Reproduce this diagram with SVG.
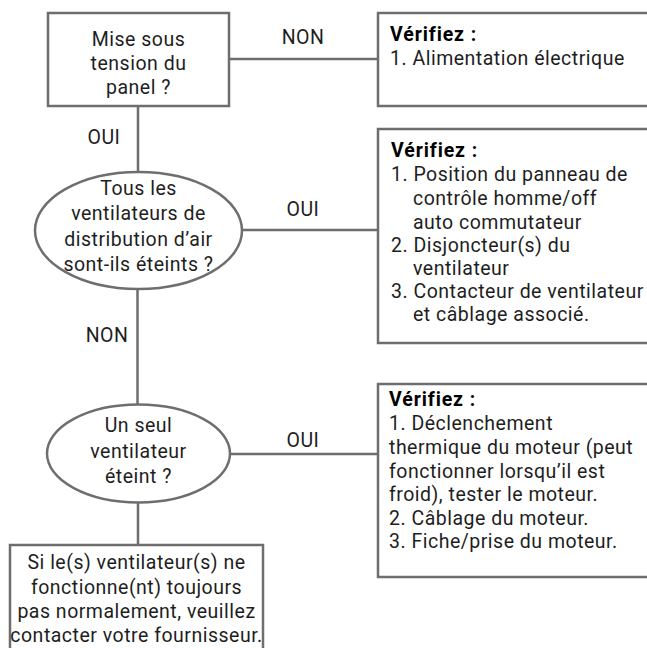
<svg xmlns="http://www.w3.org/2000/svg" width="647" height="648" viewBox="0 0 647 648">
<style>
.shape{fill:#fff;stroke:#6e6e6e;stroke-width:2.5}
.line{stroke:#6e6e6e;stroke-width:2.5;fill:none}
text{font-family:Roboto,"Open Sans","Noto Sans",sans-serif;font-size:19.5px;letter-spacing:0.5px;fill:#1e1e1e}
.c{text-anchor:middle}
.b{font-weight:bold;fill:#000;letter-spacing:0.9px}
</style>
<rect width="647" height="648" fill="#fff"/>
<g id="connectors">
<line class="line" x1="229" y1="59" x2="378" y2="59"/>
<line class="line" x1="138" y1="106" x2="138" y2="172"/>
<line class="line" x1="242" y1="230" x2="378" y2="230"/>
<line class="line" x1="137.5" y1="289" x2="137.5" y2="405"/>
<line class="line" x1="230" y1="454" x2="377" y2="454"/>
<line class="line" x1="138" y1="502" x2="138" y2="545"/>
<text class="c" x="303" y="44">NON</text>
<text class="c" x="104" y="144">OUI</text>
<text class="c" x="303" y="216">OUI</text>
<text class="c" x="107" y="342">NON</text>
<text class="c" x="303" y="447">OUI</text>
</g>
<g id="n1">
<rect class="shape" x="48" y="13" width="181" height="93"/>
<text class="c" x="138.5" y="46">Mise sous</text>
<text class="c" x="138.5" y="70">tension du</text>
<text class="c" x="138.5" y="94">panel ?</text>
</g>
<g id="r1">
<rect class="shape" x="378" y="13" width="290" height="93"/>
<text class="b" x="390" y="41">Vérifiez :</text>
<text x="390" y="65">1. Alimentation électrique</text>
</g>
<g id="n2">
<ellipse class="shape" cx="138.5" cy="230.5" rx="103.5" ry="58.5"/>
<text class="c" x="138.5" y="195">Tous les</text>
<text class="c" x="138.5" y="220">ventilateurs de</text>
<text class="c" x="138.5" y="246">distribution d’air</text>
<text class="c" x="138.5" y="271">sont-ils éteints ?</text>
</g>
<g id="r2">
<rect class="shape" x="378" y="129" width="290" height="214"/>
<text class="b" x="391" y="157">Vérifiez :</text>
<text x="391" y="181">1. Position du panneau de</text>
<text x="413" y="205">contrôle homme/off</text>
<text x="413" y="229">auto commutateur</text>
<text x="391" y="252">2. Disjoncteur(s) du</text>
<text x="413" y="275">ventilateur</text>
<text x="391" y="298">3. Contacteur de ventilateur</text>
<text x="413" y="321">et câblage associé.</text>
</g>
<g id="n3">
<ellipse class="shape" cx="138.5" cy="453.5" rx="91.5" ry="49"/>
<text class="c" x="138.5" y="432">Un seul</text>
<text class="c" x="138.5" y="457.5">ventilateur</text>
<text class="c" x="138.5" y="483">éteint ?</text>
</g>
<g id="r3">
<rect class="shape" x="378" y="384" width="290" height="193"/>
<text class="b" x="389" y="406">Vérifiez :</text>
<text x="389" y="430">1. Déclenchement</text>
<text x="389" y="454">thermique du moteur (peut</text>
<text x="389" y="477.5">fonctionner lorsqu’il est</text>
<text x="389" y="501">froid), tester le moteur.</text>
<text x="389" y="524.5">2. Câblage du moteur.</text>
<text x="389" y="548">3. Fiche/prise du moteur.</text>
</g>
<g id="n4">
<rect class="shape" x="10" y="545" width="253" height="110"/>
<text class="c" x="136.5" y="569">Si le(s) ventilateur(s) ne</text>
<text class="c" x="136.5" y="593.5">fonctionne(nt) toujours</text>
<text class="c" x="136.5" y="618">pas normalement, veuillez</text>
<text class="c" x="136.5" y="642">contacter votre fournisseur.</text>
</g>
</svg>
